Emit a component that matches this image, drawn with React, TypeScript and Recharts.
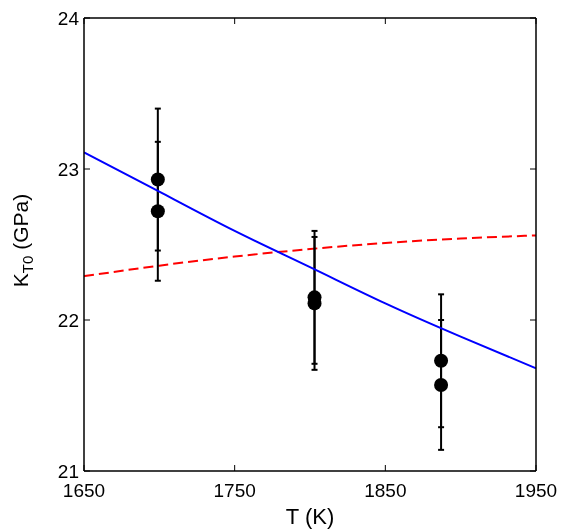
import React from "react";
import {
  ComposedChart,
  Line,
  Scatter,
  ErrorBar,
  XAxis,
  YAxis,
} from "recharts";

// fitted curves
const fitT = [1650, 1700, 1750, 1800, 1850, 1900, 1950];
const blueK = [23.11, 22.85, 22.59, 22.35, 22.11, 21.89, 21.68];
const redK = [22.29, 22.36, 22.42, 22.47, 22.51, 22.54, 22.56];

// measurements (two per temperature)
const measT = [1699, 1803, 1887];
const upperK = [22.93, 22.15, 21.73];
const upperErr = [0.47, 0.44, 0.44];
const lowerK = [22.72, 22.11, 21.57];
const lowerErr = [0.46, 0.44, 0.43];

const xTicks = [1650, 1750, 1850, 1950];
const yTicks = [21, 22, 23, 24];

const blueData = fitT.map((t, i) => ({ t, k: blueK[i] }));
const redData = fitT.map((t, i) => ({ t, k: redK[i] }));
const upperData = measT.map((t, i) => ({ t, k: upperK[i], err: upperErr[i] }));
const lowerData = measT.map((t, i) => ({ t, k: lowerK[i], err: lowerErr[i] }));

const FONT = "'Liberation Sans', Arial, Helvetica, sans-serif";
const TICK_LEN = 6;

const BottomTick = ({ x, y, payload }: any) => (
  <g>
    <line x1={x} x2={x} y1={y} y2={y - TICK_LEN} stroke="#000" strokeWidth={1} />
    <text x={x} y={y + 26} textAnchor="middle" fontSize={19} fontFamily={FONT} fill="#000">
      {payload.value}
    </text>
  </g>
);

const TopTick = ({ x, y }: any) => (
  <line x1={x} x2={x} y1={y} y2={y + TICK_LEN} stroke="#000" strokeWidth={1} />
);

const LeftTick = ({ x, y, payload }: any) => (
  <g>
    <line x1={x} x2={x + TICK_LEN} y1={y} y2={y} stroke="#000" strokeWidth={1} />
    <text x={x - 5} y={y} dy="0.35em" textAnchor="end" fontSize={19} fontFamily={FONT} fill="#000">
      {payload.value}
    </text>
  </g>
);

const RightTick = ({ x, y }: any) => (
  <line x1={x} x2={x - TICK_LEN} y1={y} y2={y} stroke="#000" strokeWidth={1} />
);

const Dot = (props: any) => <circle cx={props.cx} cy={props.cy} r={7} fill="#000" />;

const axisStroke = { stroke: "#000", strokeWidth: 1.5 };

export default function App() {
  return (
    <div style={{ position: "fixed", left: 0, top: 0, width: 561, height: 529 }}>
      <ComposedChart width={561} height={529} margin={{ top: 17, right: 24, bottom: 0, left: 0 }}>
        <XAxis
          xAxisId="b"
          dataKey="t"
          type="number"
          domain={[1650, 1950]}
          ticks={xTicks}
          interval={0}
          tickSize={0}
          tickMargin={0}
          tickLine={false}
          tick={BottomTick}
          height={58}
          axisLine={axisStroke}
          allowDataOverflow
          label={{
            content: (p: any) => {
              const vb = p.viewBox;
              return (
                <text x={vb.x + vb.width / 2} y={vb.y + 53} textAnchor="middle" fontSize={22} fontFamily={FONT} fill="#000">
                  T (K)
                </text>
              );
            },
          }}
        />
        <XAxis
          xAxisId="t"
          orientation="top"
          dataKey="t"
          type="number"
          domain={[1650, 1950]}
          ticks={xTicks}
          interval={0}
          tickSize={0}
          tickMargin={0}
          tickLine={false}
          tick={TopTick}
          height={1}
          axisLine={axisStroke}
          allowDataOverflow
        />
        <YAxis
          yAxisId="l"
          dataKey="k"
          type="number"
          domain={[21, 24]}
          ticks={yTicks}
          interval={0}
          tickSize={0}
          tickMargin={0}
          tickLine={false}
          tick={LeftTick}
          width={84}
          axisLine={axisStroke}
          allowDataOverflow
          label={{
            content: (p: any) => {
              const vb = p.viewBox;
              const cx = vb.x + 28;
              const cy = vb.y + vb.height / 2 - 4;
              return (
                <text
                  x={cx}
                  y={cy}
                  transform={`rotate(-90 ${cx} ${cy})`}
                  textAnchor="middle"
                  fontSize={21}
                  fontFamily={FONT}
                  fill="#000"
                >
                  K
                  <tspan fontSize={15} dy={5}>T0</tspan>
                  <tspan dy={-5}> (GPa)</tspan>
                </text>
              );
            },
          }}
        />
        <YAxis
          yAxisId="r"
          orientation="right"
          dataKey="k"
          type="number"
          domain={[21, 24]}
          ticks={yTicks}
          interval={0}
          tickSize={0}
          tickMargin={0}
          tickLine={false}
          tick={RightTick}
          width={1}
          axisLine={axisStroke}
          allowDataOverflow
        />
        {/* red curve drawn on the mirrored axes (same domains) so they render */}
        <Line
          xAxisId="t"
          yAxisId="r"
          data={redData}
          dataKey="k"
          type="natural"
          stroke="#ff0000"
          strokeWidth={2}
          strokeDasharray="10 5"
          dot={false}
          isAnimationActive={false}
        />
        <Scatter xAxisId="b" yAxisId="l" data={upperData} dataKey="k" shape={Dot} isAnimationActive={false}>
          <ErrorBar dataKey="err" direction="y" width={3} stroke="#000" strokeWidth={2} isAnimationActive={false} />
        </Scatter>
        <Scatter xAxisId="b" yAxisId="l" data={lowerData} dataKey="k" shape={Dot} isAnimationActive={false}>
          <ErrorBar dataKey="err" direction="y" width={3} stroke="#000" strokeWidth={2} isAnimationActive={false} />
        </Scatter>
        <Line
          xAxisId="b"
          yAxisId="l"
          data={blueData}
          dataKey="k"
          type="natural"
          stroke="#0000ff"
          strokeWidth={2}
          dot={false}
          isAnimationActive={false}
        />
      </ComposedChart>
    </div>
  );
}
